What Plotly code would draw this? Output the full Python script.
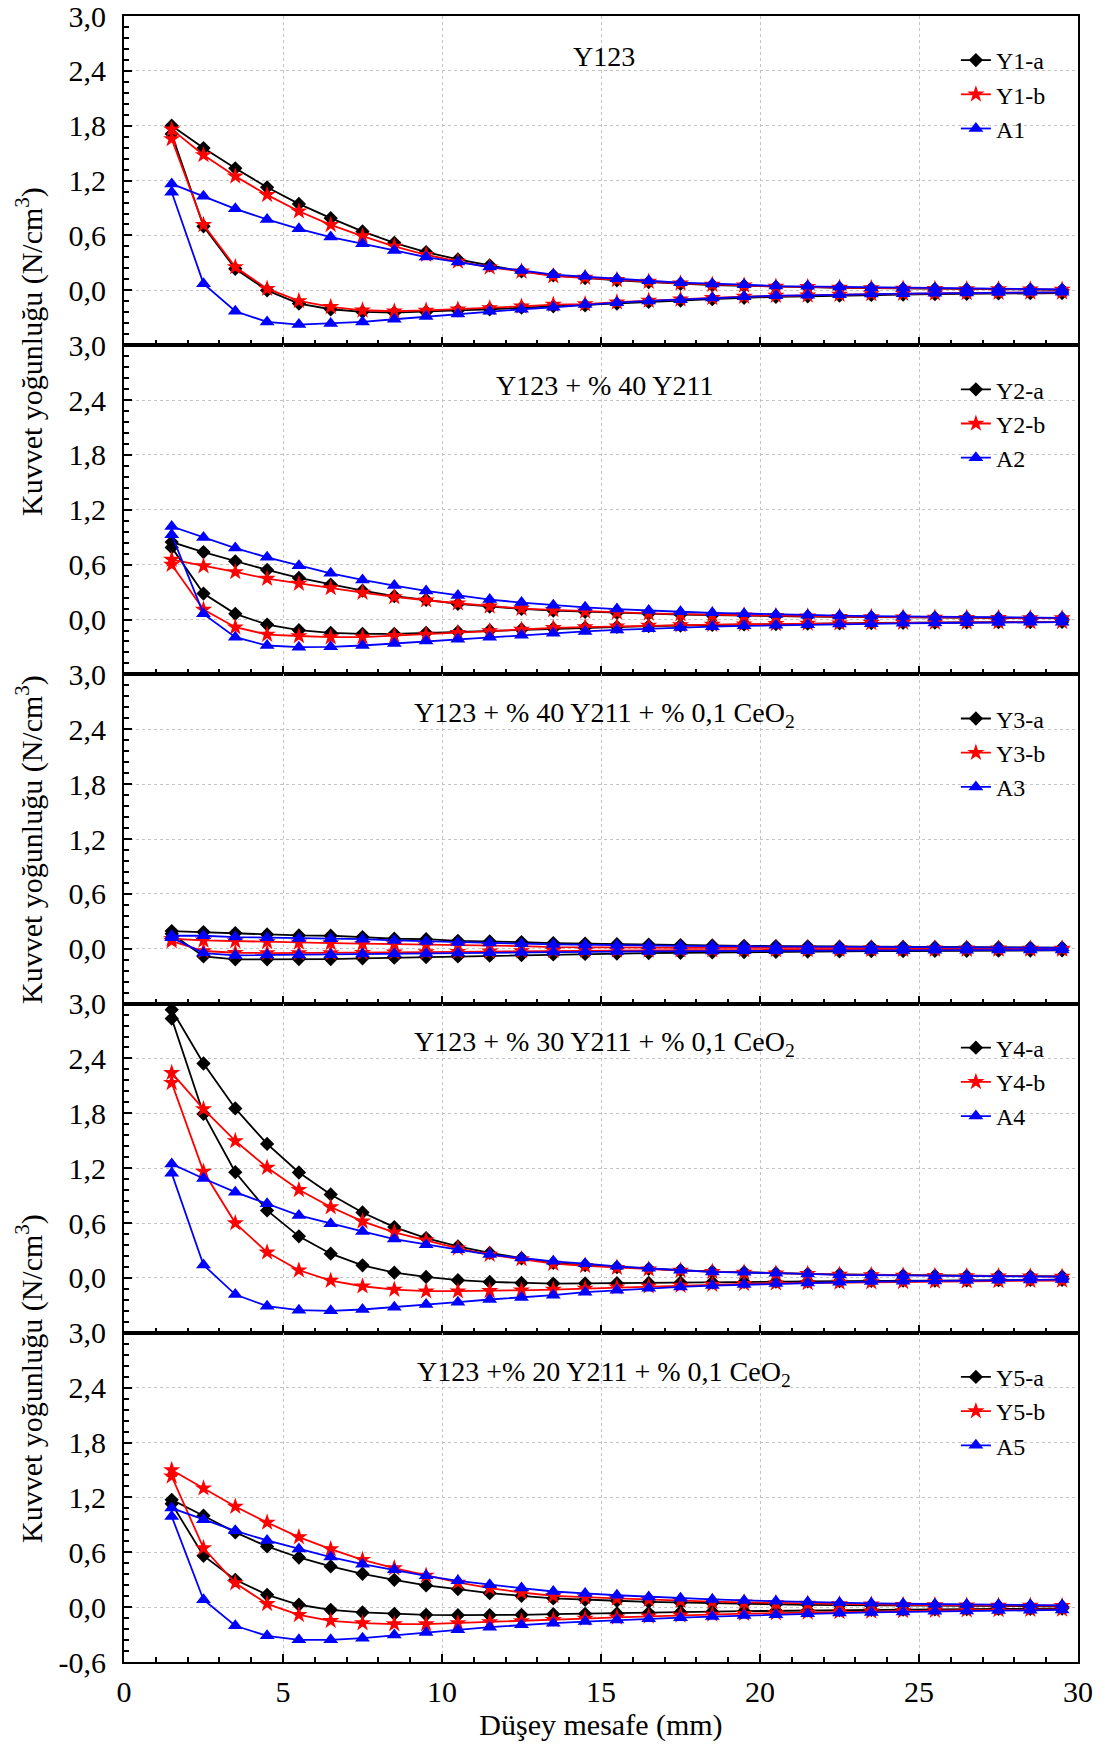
import plotly.graph_objects as go
from plotly.subplots import make_subplots

# Vertical distance (mm) at which the force density was measured
distance_mm = [1.5, 2.5, 3.5, 4.5, 5.5, 6.5, 7.5, 8.5, 9.5, 10.5, 11.5, 12.5, 13.5, 14.5, 15.5,
               16.5, 17.5, 18.5, 19.5, 20.5, 21.5, 22.5, 23.5, 24.5, 25.5, 26.5, 27.5, 28.5, 29.5]

# Each sample: approach branch (upper) and withdrawal branch (lower), N/cm^3
# --- Y123
y1a_up = [1.80, 1.556, 1.334, 1.127, 0.945, 0.789, 0.644, 0.52, 0.418, 0.338, 0.273, 0.207, 0.164,
          0.135, 0.11, 0.09, 0.072, 0.058, 0.05, 0.038, 0.034, 0.027, 0.021, 0.017, 0.014, 0.011, 0.01, 0.008, 0.006]
y1a_dn = [1.71, 0.70, 0.236, 0.0, -0.145, -0.207, -0.236, -0.244, -0.236, -0.22, -0.207, -0.19, -0.175,
          -0.163, -0.145, -0.127, -0.113, -0.097, -0.082, -0.07, -0.065, -0.057, -0.05, -0.046, -0.042, -0.038, -0.034, -0.031, -0.03]
y1b_up = [1.76, 1.48, 1.247, 1.044, 0.865, 0.716, 0.593, 0.48, 0.389, 0.316, 0.251, 0.207, 0.156,
          0.14, 0.115, 0.095, 0.077, 0.062, 0.055, 0.041, 0.038, 0.03, 0.024, 0.02, 0.017, 0.014, 0.013, 0.011, 0.008]
y1b_dn = [1.655, 0.716, 0.255, 0.018, -0.116, -0.18, -0.218, -0.229, -0.22, -0.207, -0.193, -0.175, -0.156,
          -0.15, -0.13, -0.112, -0.098, -0.082, -0.069, -0.058, -0.055, -0.047, -0.04, -0.036, -0.033, -0.029, -0.025, -0.022, -0.022]
a1_up = [1.164, 1.029, 0.891, 0.775, 0.673, 0.582, 0.509, 0.436, 0.364, 0.309, 0.255, 0.218, 0.171,
         0.153, 0.127, 0.105, 0.084, 0.069, 0.062, 0.047, 0.044, 0.036, 0.029, 0.025, 0.022, 0.018, 0.018, 0.015, 0.011]
a1_dn = [1.073, 0.073, -0.229, -0.345, -0.375, -0.364, -0.345, -0.316, -0.287, -0.258, -0.229, -0.207, -0.185,
         -0.156, -0.135, -0.116, -0.102, -0.084, -0.069, -0.058, -0.055, -0.047, -0.04, -0.036, -0.033, -0.029, -0.025, -0.022, -0.022]

# --- Y123 + % 40 Y211
y2a_up = [0.847, 0.738, 0.636, 0.542, 0.455, 0.382, 0.316, 0.255, 0.215, 0.171, 0.142, 0.116, 0.098,
          0.085, 0.073, 0.064, 0.055, 0.048, 0.042, 0.037, 0.033, 0.029, 0.026, 0.023, 0.021, 0.019, 0.017, 0.015, 0.014]
y2a_dn = [0.789, 0.284, 0.062, -0.055, -0.116, -0.145, -0.156, -0.156, -0.145, -0.135, -0.12, -0.109, -0.098,
          -0.088, -0.08, -0.072, -0.065, -0.059, -0.054, -0.049, -0.045, -0.041, -0.038, -0.035, -0.033, -0.031, -0.029, -0.027, -0.026]
y2b_up = [0.655, 0.585, 0.52, 0.447, 0.393, 0.345, 0.295, 0.247, 0.211, 0.178, 0.145, 0.12, 0.105,
          0.09, 0.078, 0.068, 0.059, 0.051, 0.045, 0.04, 0.035, 0.031, 0.028, 0.025, 0.022, 0.02, 0.018, 0.016, 0.015]
y2b_dn = [0.60, 0.109, -0.084, -0.164, -0.18, -0.193, -0.193, -0.178, -0.164, -0.145, -0.127, -0.109, -0.091,
          -0.082, -0.074, -0.067, -0.061, -0.056, -0.051, -0.047, -0.043, -0.04, -0.037, -0.034, -0.032, -0.03, -0.028, -0.026, -0.025]
a2_up = [1.018, 0.898, 0.782, 0.68, 0.589, 0.505, 0.433, 0.371, 0.313, 0.262, 0.218, 0.185, 0.156,
         0.133, 0.114, 0.098, 0.085, 0.073, 0.063, 0.055, 0.048, 0.042, 0.037, 0.033, 0.029, 0.026, 0.023, 0.021, 0.019]
a2_dn = [0.927, 0.062, -0.193, -0.284, -0.302, -0.298, -0.284, -0.262, -0.236, -0.215, -0.193, -0.171, -0.149,
         -0.13, -0.114, -0.1, -0.088, -0.078, -0.069, -0.062, -0.056, -0.05, -0.046, -0.042, -0.038, -0.035, -0.033, -0.031, -0.029]

# --- Y123 + % 40 Y211 + % 0,1 CeO2
y3a_up = [0.193, 0.182, 0.171, 0.156, 0.145, 0.142, 0.127, 0.109, 0.105, 0.087, 0.08, 0.073, 0.062,
          0.056, 0.05, 0.045, 0.04, 0.036, 0.032, 0.029, 0.026, 0.023, 0.021, 0.019, 0.017, 0.015, 0.014, 0.013, 0.012]
y3a_dn = [0.164, -0.084, -0.116, -0.116, -0.113, -0.113, -0.105, -0.098, -0.091, -0.084, -0.076, -0.069, -0.062,
          -0.057, -0.052, -0.048, -0.044, -0.04, -0.037, -0.034, -0.031, -0.029, -0.027, -0.025, -0.023, -0.022, -0.021, -0.02, -0.019]
y3b_up = [0.109, 0.091, 0.084, 0.076, 0.069, 0.062, 0.055, 0.05, 0.04, 0.036, 0.033, 0.029, 0.018,
          0.016, 0.014, 0.012, 0.011, 0.01, 0.009, 0.008, 0.007, 0.006, 0.006, 0.005, 0.005, 0.004, 0.004, 0.003, 0.003]
y3b_dn = [0.084, -0.025, -0.044, -0.047, -0.047, -0.047, -0.044, -0.04, -0.036, -0.033, -0.029, -0.025, -0.022,
          -0.02, -0.018, -0.017, -0.016, -0.015, -0.014, -0.013, -0.012, -0.011, -0.01, -0.01, -0.009, -0.009, -0.008, -0.008, -0.008]
a3_up = [0.142, 0.142, 0.127, 0.12, 0.113, 0.109, 0.105, 0.091, 0.08, 0.069, 0.062, 0.055, 0.047,
         0.042, 0.038, 0.034, 0.031, 0.028, 0.025, 0.023, 0.021, 0.019, 0.017, 0.015, 0.014, 0.013, 0.012, 0.011, 0.01]
a3_dn = [0.12, -0.047, -0.073, -0.069, -0.069, -0.065, -0.058, -0.055, -0.051, -0.047, -0.044, -0.04, -0.036,
         -0.033, -0.031, -0.029, -0.027, -0.025, -0.023, -0.022, -0.021, -0.02, -0.019, -0.018, -0.017, -0.016, -0.015, -0.015, -0.014]

# --- Y123 + % 30 Y211 + % 0,1 CeO2
y4a_up = [2.934, 2.345, 1.854, 1.465, 1.153, 0.913, 0.716, 0.556, 0.436, 0.345, 0.273, 0.215, 0.164,
          0.14, 0.118, 0.1, 0.084, 0.07, 0.062, 0.052, 0.045, 0.038, 0.032, 0.028, 0.025, 0.022, 0.02, 0.018, 0.016]
y4a_dn = [2.836, 1.793, 1.156, 0.738, 0.455, 0.265, 0.138, 0.058, 0.011, -0.025, -0.044, -0.055, -0.062,
          -0.06, -0.058, -0.055, -0.051, -0.047, -0.044, -0.041, -0.038, -0.035, -0.032, -0.03, -0.028, -0.026, -0.024, -0.022, -0.02]
y4b_up = [2.243, 1.847, 1.498, 1.207, 0.964, 0.775, 0.618, 0.498, 0.411, 0.324, 0.255, 0.207, 0.156,
          0.133, 0.112, 0.095, 0.08, 0.068, 0.06, 0.05, 0.044, 0.037, 0.031, 0.027, 0.024, 0.021, 0.019, 0.017, 0.015]
y4b_dn = [2.134, 1.164, 0.60, 0.28, 0.084, -0.029, -0.091, -0.127, -0.145, -0.145, -0.142, -0.135, -0.127,
          -0.116, -0.102, -0.091, -0.084, -0.073, -0.065, -0.058, -0.055, -0.05, -0.046, -0.042, -0.039, -0.036, -0.033, -0.03, -0.028]
a4_up = [1.247, 1.087, 0.938, 0.811, 0.684, 0.593, 0.509, 0.425, 0.364, 0.309, 0.255, 0.218, 0.182,
         0.156, 0.127, 0.105, 0.084, 0.066, 0.062, 0.051, 0.044, 0.033, 0.029, 0.026, 0.023, 0.02, 0.018, 0.016, 0.014]
a4_dn = [1.145, 0.142, -0.182, -0.309, -0.353, -0.36, -0.345, -0.32, -0.291, -0.265, -0.236, -0.215, -0.189,
         -0.156, -0.135, -0.113, -0.098, -0.084, -0.073, -0.062, -0.055, -0.047, -0.04, -0.036, -0.033, -0.029, -0.025, -0.022, -0.018]

# --- Y123 +% 20 Y211 + % 0,1 CeO2
y5a_up = [1.174, 1.0, 0.817, 0.664, 0.543, 0.445, 0.365, 0.299, 0.237, 0.197, 0.153, 0.124, 0.095,
          0.08, 0.07, 0.058, 0.05, 0.044, 0.036, 0.03, 0.025, 0.022, 0.018, 0.015, 0.013, 0.011, 0.01, 0.009, 0.008]
y5a_dn = [1.13, 0.562, 0.299, 0.135, 0.026, -0.029, -0.058, -0.073, -0.084, -0.088, -0.088, -0.084, -0.077,
          -0.073, -0.069, -0.062, -0.055, -0.05, -0.044, -0.04, -0.036, -0.033, -0.029, -0.026, -0.024, -0.022, -0.02, -0.018, -0.016]
y5b_up = [1.50, 1.30, 1.10, 0.926, 0.766, 0.635, 0.518, 0.427, 0.346, 0.27, 0.208, 0.16, 0.124,
          0.11, 0.095, 0.082, 0.07, 0.06, 0.052, 0.045, 0.039, 0.034, 0.03, 0.026, 0.023, 0.02, 0.018, 0.016, 0.015]
y5b_dn = [1.43, 0.646, 0.263, 0.036, -0.084, -0.15, -0.175, -0.186, -0.186, -0.175, -0.164, -0.153, -0.139,
          -0.125, -0.112, -0.1, -0.09, -0.08, -0.072, -0.065, -0.058, -0.052, -0.047, -0.042, -0.038, -0.034, -0.031, -0.028, -0.025]
a5_up = [1.083, 0.955, 0.835, 0.729, 0.635, 0.547, 0.47, 0.408, 0.343, 0.288, 0.244, 0.208, 0.171,
         0.15, 0.13, 0.112, 0.097, 0.084, 0.073, 0.063, 0.055, 0.048, 0.042, 0.037, 0.032, 0.028, 0.025, 0.022, 0.02]
a5_dn = [0.992, 0.08, -0.204, -0.314, -0.357, -0.357, -0.339, -0.306, -0.277, -0.248, -0.219, -0.193, -0.175,
         -0.158, -0.142, -0.128, -0.115, -0.103, -0.092, -0.082, -0.073, -0.065, -0.058, -0.052, -0.046, -0.041, -0.037, -0.033, -0.03]

panel_titles = [
    "Y123",
    "Y123 + % 40 Y211",
    "Y123 + % 40 Y211 + % 0,1 CeO<sub>2</sub>",
    "Y123 + % 30 Y211 + % 0,1 CeO<sub>2</sub>",
    "Y123 +% 20 Y211 + % 0,1 CeO<sub>2</sub>",
]
series_names = [
    ["Y1-a", "Y1-b", "A1"],
    ["Y2-a", "Y2-b", "A2"],
    ["Y3-a", "Y3-b", "A3"],
    ["Y4-a", "Y4-b", "A4"],
    ["Y5-a", "Y5-b", "A5"],
]
series_data = [
    [(y1a_up, y1a_dn), (y1b_up, y1b_dn), (a1_up, a1_dn)],
    [(y2a_up, y2a_dn), (y2b_up, y2b_dn), (a2_up, a2_dn)],
    [(y3a_up, y3a_dn), (y3b_up, y3b_dn), (a3_up, a3_dn)],
    [(y4a_up, y4a_dn), (y4b_up, y4b_dn), (a4_up, a4_dn)],
    [(y5a_up, y5a_dn), (y5b_up, y5b_dn), (a5_up, a5_dn)],
]
y_ticks = [-0.6, 0.0, 0.6, 1.2, 1.8, 2.4, 3.0]
y_tick_text = ["-0,6", "0,0", "0,6", "1,2", "1,8", "2,4", "3,0"]

styles = [
    dict(color="#000000", symbol="diamond", size=11),
    dict(color="#FF0000", symbol="star", size=13),
    dict(color="#0000FF", symbol="triangle-up", size=13),
]

FONT = "Liberation Serif"
W, H = 1105, 1746
M_L, M_R, M_T, M_B = 124, 27, 16, 84
plot_h = H - M_T - M_B
panel_px = plot_h / 5

fig = make_subplots(rows=5, cols=1, vertical_spacing=0)

for p in range(5):
    row = p + 1
    legend_id = "legend" if p == 0 else f"legend{row}"
    for s in range(3):
        up, dn = series_data[p][s]
        st = styles[s]
        # approach branch runs from far to near, withdrawal branch from near to far
        xs = distance_mm[::-1] + distance_mm
        ys = up[::-1] + dn
        fig.add_trace(
            go.Scatter(
                x=xs, y=ys, mode="lines+markers", name=series_names[p][s],
                line=dict(color=st["color"], width=1.8),
                marker=dict(color=st["color"], symbol=st["symbol"], size=st["size"],
                            line=dict(width=0)),
                legend=legend_id,
            ),
            row=row, col=1,
        )

    # legend box for this panel
    top_px = M_T + p * panel_px + 22
    fig.update_layout({
        legend_id: dict(
            x=0.872, xanchor="left",
            y=(plot_h - (top_px - M_T)) / plot_h, yanchor="top",
            font=dict(family=FONT, size=24, color="black"),
            bgcolor="rgba(0,0,0,0)", borderwidth=0,
            tracegroupgap=0,
        )
    })

    # panel title
    fig.add_annotation(
        x=15.1, y=2.56, xref=f"x{row if row > 1 else ''}", yref=f"y{row if row > 1 else ''}",
        text=panel_titles[p], showarrow=False, xanchor="center", yanchor="middle",
        font=dict(family=FONT, size=28, color="black"),
    )

    # the lowest panel carries the -0,6 label; above it the next panel's 3,0 takes its place
    tv = y_ticks if row == 5 else y_ticks[1:]
    tt = y_tick_text if row == 5 else y_tick_text[1:]

    fig.update_xaxes(
        row=row, col=1, range=[0, 30], tick0=0, dtick=5,
        ticks="inside", ticklen=8, tickwidth=1.5, tickcolor="black",
        minor=dict(ticks="inside", dtick=1, tick0=0, ticklen=5, tickwidth=1.5,
                   tickcolor="black", showgrid=False),
        showline=True, linewidth=2, linecolor="black", mirror=True,
        showgrid=True, gridcolor="#c4c4c4", gridwidth=1, griddash="dot",
        zeroline=False, showticklabels=(row == 5), automargin=False,
        tickfont=dict(family=FONT, size=30, color="black"),
        ticklabelstandoff=2, ticklabeloverflow="allow",
    )
    fig.update_yaxes(
        row=row, col=1, range=[-0.6, 3.0],
        tickvals=tv, ticktext=tt,
        ticks="inside", ticklen=8, tickwidth=1.5, tickcolor="black",
        minor=dict(ticks="inside", dtick=0.12, tick0=-0.6, ticklen=5, tickwidth=1.5,
                   tickcolor="black", showgrid=False),
        showline=True, linewidth=2, linecolor="black", mirror=True,
        showgrid=True, gridcolor="#c4c4c4", gridwidth=1, griddash="dot",
        zeroline=False, automargin=False,
        tickfont=dict(family=FONT, size=30, color="black"),
        ticklabelstandoff=10, ticklabeloverflow="allow",
    )

fig.update_xaxes(
    row=5, col=1,
    title=dict(text="Düşey mesafe (mm)", font=dict(family=FONT, size=30, color="black"),
               standoff=4),
)

# y-axis captions shared by the stacked panels
y_label = "Kuvvet yoğunluğu (N/cm<sup>3</sup>)"
for y_px in (352, 840, 1379):
    fig.add_annotation(
        x=(29 - M_L) / (W - M_L - M_R), xref="paper",
        y=(H - M_B - y_px) / plot_h, yref="paper",
        text=y_label, textangle=-90, showarrow=False,
        xanchor="center", yanchor="middle",
        font=dict(family=FONT, size=30, color="black"),
    )

fig.update_layout(
    width=W, height=H,
    margin=dict(l=M_L, r=M_R, t=M_T, b=M_B, autoexpand=False),
    plot_bgcolor="white", paper_bgcolor="white",
    font=dict(family=FONT, size=30, color="black"),
    showlegend=True,
)

fig.write_html("out.html")
